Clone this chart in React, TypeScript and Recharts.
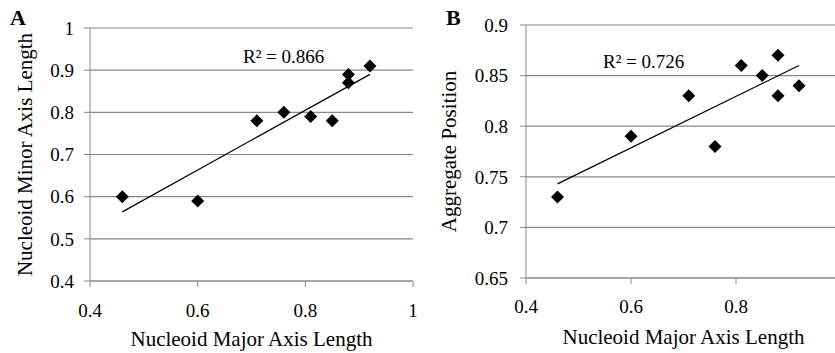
import { ScatterChart, Scatter, XAxis, YAxis, CartesianGrid } from "recharts";

// nucleoid measurements (same x values used in both panels)
const majorAxis = [0.46, 0.6, 0.71, 0.76, 0.81, 0.85, 0.88, 0.88, 0.92];
const minorAxis = [0.6, 0.59, 0.78, 0.8, 0.79, 0.78, 0.89, 0.87, 0.91];
const aggregatePos = [0.73, 0.79, 0.83, 0.78, 0.86, 0.85, 0.87, 0.83, 0.84];

// linear trend line end points
const trendX = [0.46, 0.92];
const trendMinor = [0.564, 0.89];
const trendAggregate = [0.743, 0.86];

const xTicksA = [0.4, 0.6, 0.8, 1];
const xTicksB = [0.4, 0.6, 0.8]; // the 1 falls past the image edge in panel B
const minorTicks = [0.4, 0.5, 0.6, 0.7, 0.8, 0.9, 1];
const aggregateTicks = [0.65, 0.7, 0.75, 0.8, 0.85, 0.9];

const FONT = "'Liberation Serif', 'Times New Roman', serif";
const GRID = "#888888";

const toPoints = (xs: number[], ys: number[]) => xs.map((x, i) => ({ x, y: ys[i] }));

const Diamond = (props: any) => {
    const { cx, cy } = props;
    const r = 6.5;
    return <path d={`M${cx},${cy - r}L${cx + r},${cy}L${cx},${cy + r}L${cx - r},${cy}Z`} fill="#000" />;
};

const NoDot = () => <g />;

interface PanelProps {
    left: number;
    width: number;
    top: number;
    yAxisWidth: number;
    marginRight: number;
    xAxisHeight: number;
    xTicks: number[];
    yDomain: [number, number];
    yTicks: number[];
    ys: number[];
    trendYs: number[];
    yTitle: string;
    yTitleOffset: number;
    yTickMargin: number;
    xTickMargin: number;
    xTitleOffset: number;
}

function Panel(p: PanelProps) {
    const tickStyle = { fill: "#000", fontSize: 19, fontFamily: FONT };
    return (
        <div style={{ position: "absolute", left: p.left, top: 0 }}>
            <ScatterChart
                width={p.width}
                height={353}
                margin={{ top: p.top, right: p.marginRight, bottom: 0, left: 0 }}
            >
                <CartesianGrid vertical={false} stroke={GRID} strokeWidth={1.2} />
                <XAxis
                    type="number"
                    dataKey="x"
                    domain={[0.4, 1]}
                    ticks={p.xTicks}
                    tickFormatter={(v) => String(v)}
                    height={p.xAxisHeight}
                    stroke={GRID}
                    tickSize={6}
                    tickMargin={p.xTickMargin}
                    tick={tickStyle}
                    allowDataOverflow
                    label={{
                        value: "Nucleoid Major Axis Length",
                        position: "insideBottom",
                        offset: p.xTitleOffset,
                        style: { fill: "#000", fontSize: 21, fontFamily: FONT },
                    }}
                />
                <YAxis
                    type="number"
                    dataKey="y"
                    domain={p.yDomain}
                    ticks={p.yTicks}
                    tickFormatter={(v) => String(v)}
                    width={p.yAxisWidth}
                    stroke={GRID}
                    tickSize={6}
                    tickMargin={p.yTickMargin}
                    tick={tickStyle}
                    allowDataOverflow
                    label={{
                        value: p.yTitle,
                        angle: -90,
                        position: "insideLeft",
                        offset: p.yTitleOffset,
                        style: { fill: "#000", fontSize: 21, fontFamily: FONT, textAnchor: "middle" },
                    }}
                />
                <Scatter
                    data={toPoints(trendX, p.trendYs)}
                    line={{ stroke: "#000", strokeWidth: 1.3 }}
                    shape={NoDot}
                    isAnimationActive={false}
                />
                <Scatter data={toPoints(majorAxis, p.ys)} shape={Diamond} isAnimationActive={false} />
            </ScatterChart>
        </div>
    );
}

export default function App() {
    const txt = { fontFamily: FONT, fill: "#000" };
    return (
        <div
            style={{
                position: "absolute",
                left: 0,
                top: 0,
                width: 835,
                height: 353,
                overflow: "hidden",
                background: "#fff",
            }}
        >
            <Panel
                left={0}
                width={420}
                top={28}
                yAxisWidth={90}
                marginRight={7}
                xAxisHeight={72}
                xTicks={xTicksA}
                yDomain={[0.4, 1]}
                yTicks={minorTicks}
                ys={minorAxis}
                trendYs={trendMinor}
                yTitle="Nucleoid Minor Axis Length"
                yTitleOffset={24.5}
                yTickMargin={10}
                xTickMargin={16.5}
                xTitleOffset={7}
            />
            <Panel
                left={420}
                width={430}
                top={25}
                yAxisWidth={106}
                marginRight={9}
                xAxisHeight={75}
                xTicks={xTicksB}
                yDomain={[0.65, 0.9]}
                yTicks={aggregateTicks}
                ys={aggregatePos}
                trendYs={trendAggregate}
                yTitle="Aggregate Position"
                yTitleOffset={29}
                yTickMargin={12}
                xTickMargin={15.5}
                xTitleOffset={9}
            />
            <svg
                width={835}
                height={353}
                style={{ position: "absolute", left: 0, top: 0, pointerEvents: "none" }}
            >
                <text x={10} y={25} fontSize={22} fontWeight="bold" {...txt}>A</text>
                <text x={446} y={25} fontSize={22} fontWeight="bold" {...txt}>B</text>
                <text x={243} y={63} fontSize={19} {...txt}>R² = 0.866</text>
                <text x={603} y={68} fontSize={19} {...txt}>R² = 0.726</text>
            </svg>
        </div>
    );
}
